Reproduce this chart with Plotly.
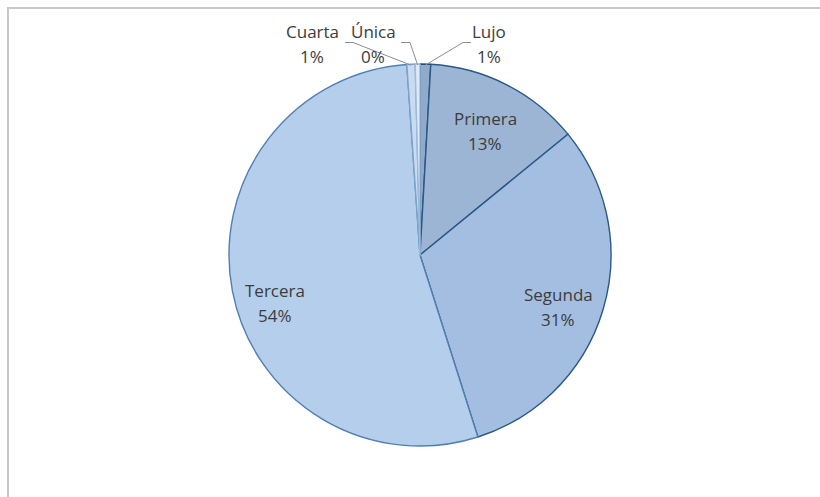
import math
import plotly.graph_objects as go

# Share of rooms by category (percent)
categories = ["Lujo", "Primera", "Segunda", "Tercera", "Cuarta", "Única"]
shares = [0.9, 13.2, 31.0, 53.8, 0.7, 0.4]

fill_colors = ["#90aacb", "#9db5d4", "#a3bee1", "#b5ceeb", "#c9dbf0", "#e0eaf6"]
edge_colors = ["#1f4e79", "#2b5886", "#2b5886", "#4f7fb3", "#7ea3cb", "#9fbbdb"]

W, H = 820, 497
CX, CY, R = 420, 255, 191  # pie centre and radius in pixels
LINE_GAP = 25  # distance between the name line and the percent line


def px(x):
    return x / W


def py(y):
    return 1 - y / H


fig = go.Figure(go.Pie(
    labels=categories,
    values=shares,
    sort=False,
    direction="clockwise",
    rotation=0,
    textinfo="none",
    hoverinfo="label+percent",
    marker=dict(colors=fill_colors, line=dict(color=edge_colors, width=1.4)),
    domain=dict(x=[px(CX - R), px(CX + R)], y=[py(CY + R), py(CY - R)]),
    showlegend=False,
))

total = sum(shares)
mid_angles = []
acc = 0.0
for v in shares:
    mid_angles.append((acc + v / 2) / total * 360.0)
    acc += v


def pct(v):
    return f"{round(v / total * 100):d}%"


font = dict(family="Open Sans, Noto Sans, sans-serif", size=17, color="#3c3c3c")

# Label block centres (pixels) for the large slices
inside_pos = {"Primera": (485, 131), "Segunda": (558, 307), "Tercera": (275, 303)}
# Labels for the thin slices above the pie, with their leader-line elbows
outside_pos = {
    "Cuarta": dict(text=(312, 44), elbow=[(345, 42.5), (353, 42.5)]),
    "Única": dict(text=(373, 44), elbow=[(401, 42.5), (410, 42.5)]),
    "Lujo": dict(text=(489, 44), elbow=[(471, 42.5), (463, 42.5)]),
}


def add_label(annotations, name, value, x, y):
    for txt, yy in ((name, y - LINE_GAP / 2), (pct(value), y + LINE_GAP / 2)):
        annotations.append(dict(x=px(x), y=py(yy), xref="paper", yref="paper",
                                text=txt, showarrow=False, font=font,
                                xanchor="center", yanchor="middle"))


annotations = []
shapes = []
for name, v, ang in zip(categories, shares, mid_angles):
    if name in inside_pos:
        x, y = inside_pos[name]
        add_label(annotations, name, v, x, y)
    else:
        spec = outside_pos[name]
        x, y = spec["text"]
        add_label(annotations, name, v, x, y)
        a = math.radians(ang)
        ex = CX + (R - 1) * math.sin(a)
        ey = CY - (R - 1) * math.cos(a)
        pts = spec["elbow"] + [(ex, ey)]
        path = "M " + " L ".join(f"{px(p[0])},{py(p[1])}" for p in pts)
        shapes.append(dict(type="path", xref="paper", yref="paper", path=path,
                           line=dict(color="#8c8c8c", width=1)))

# Chart area frame
shapes.append(dict(type="rect", xref="paper", yref="paper",
                   x0=px(8), y0=-0.02, x1=1.02, y1=py(8),
                   line=dict(color="#c8c8c8", width=2), fillcolor="rgba(0,0,0,0)"))

fig.update_layout(
    width=W, height=H,
    margin=dict(l=0, r=0, t=0, b=0),
    paper_bgcolor="white",
    plot_bgcolor="white",
    annotations=annotations,
    shapes=shapes,
)

fig.write_html("out.html")
